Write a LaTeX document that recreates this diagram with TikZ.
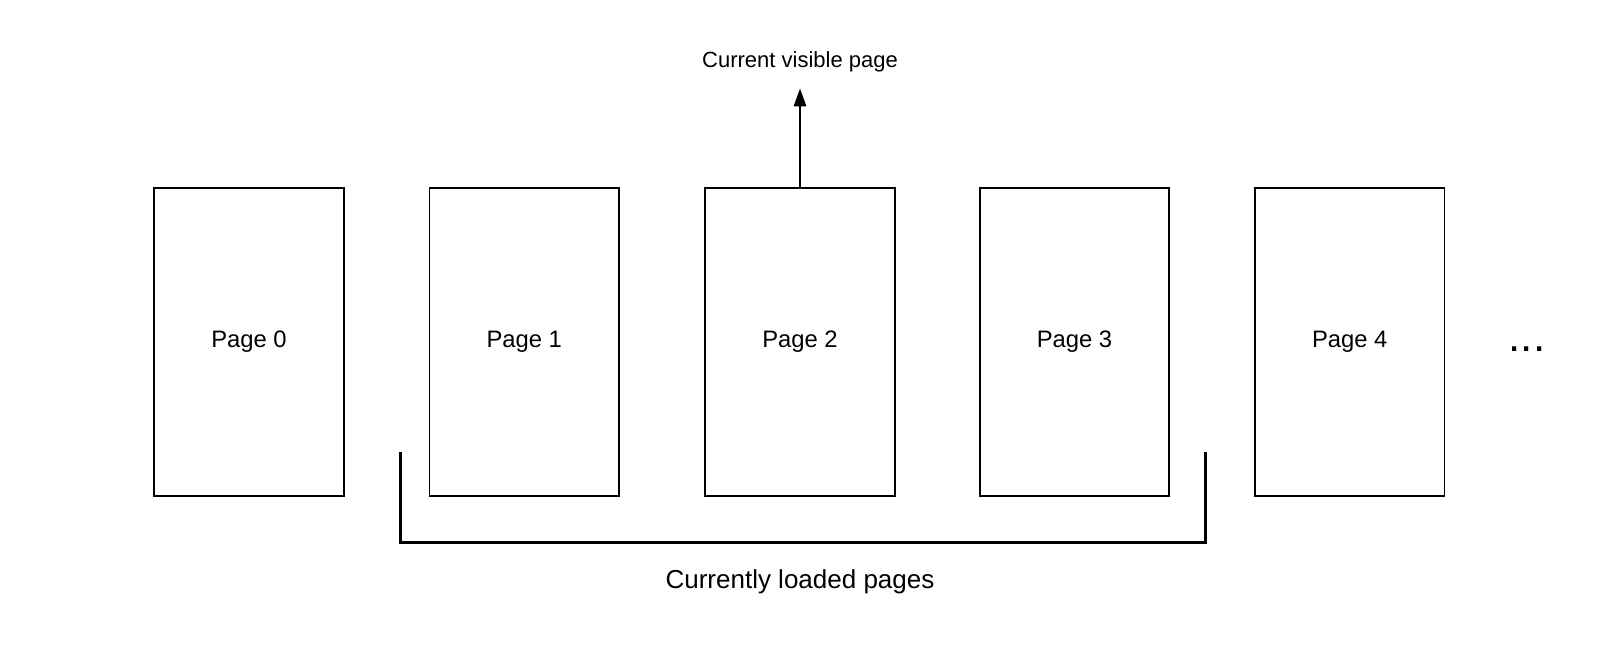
\documentclass[tikz,border=0pt]{standalone}
\usepackage{fontspec}
\setmainfont{Liberation Sans}
\usetikzlibrary{arrows.meta}
\begin{document}
\begin{tikzpicture}[x=0.5pt,y=-0.5pt,
  pagebox/.style={draw=black,line width=0.8pt,minimum width=94.75pt,minimum height=154.15pt,inner sep=0pt,font=\fontsize{11.9}{14}\selectfont},
  toplabel/.style={anchor=base,inner sep=0pt,font=\fontsize{11}{13}\selectfont},
  bottomlabel/.style={anchor=base,inner sep=0pt,font=\fontsize{13}{15}\selectfont},
  dotslabel/.style={anchor=base,inner sep=0pt,font=\fontsize{22}{24}\selectfont},
  uparrow/.style={line width=1.4pt,-{Triangle[length=9pt,width=6pt]}},
  bracketline/.style={line width=1.5pt,line join=miter,line cap=butt}]
\useasboundingbox (0,0) rectangle (1600,661);
\node[pagebox] (p0) at (249,341.85) {Page 0};
\node[pagebox] (p1) at (524.25,341.85) {Page 1};
\node[pagebox] (p2) at (800,341.85) {Page 2};
\node[pagebox] (p3) at (1074.5,341.85) {Page 3};
\node[pagebox] (p4) at (1349.75,341.85) {Page 4};
\node[dotslabel] (dots) at (1527,351) {...};
\node[toplabel] (cvp) at (800,67.5) {Current visible page};
\coordinate (tip) at (800,88.3);
\draw[uparrow] (p2.north) -- (tip);
\coordinate (bl) at (400,451.7);
\coordinate (br) at (1205.3,451.7);
\draw[bracketline] (bl) -- (400,542.5) -- (1205.3,542.5) -- (br);
\node[bottomlabel] (clp) at (800,588) {Currently loaded pages};
\end{tikzpicture}
\end{document}
